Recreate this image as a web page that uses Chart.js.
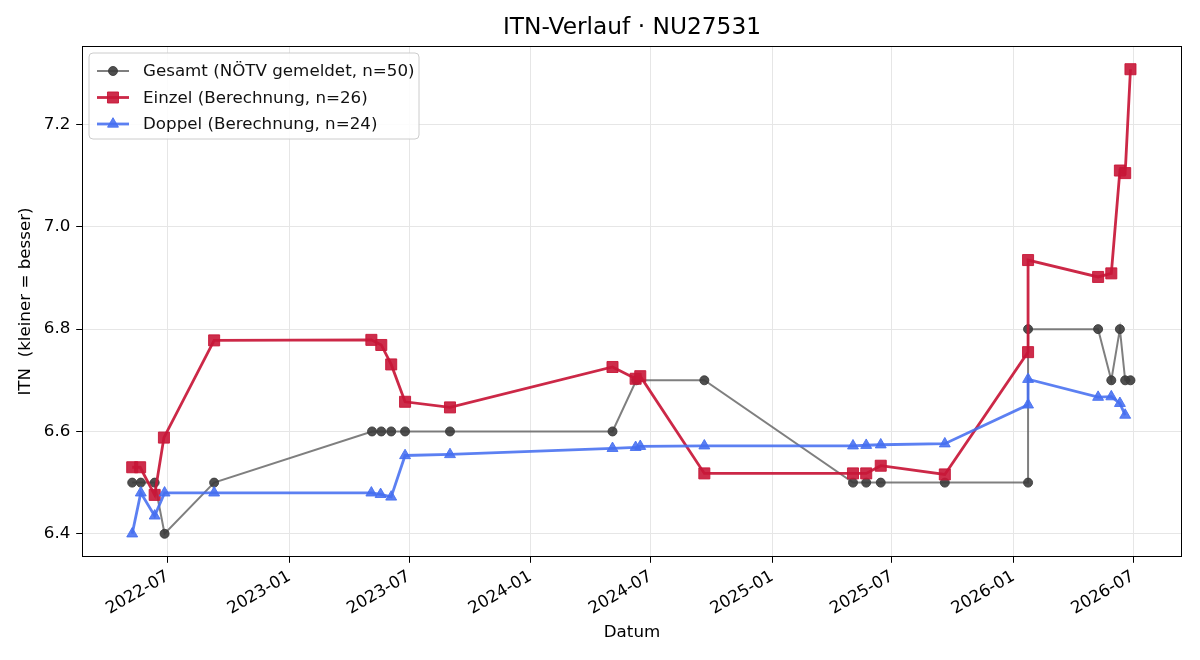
<!DOCTYPE html>
<html><head><meta charset="utf-8">
<script src="https://cdn.jsdelivr.net/npm/chart.js@4.4.1/dist/chart.umd.min.js"></script>
<style>html,body{margin:0;padding:0;background:#fff}#wrap{width:1200px;height:660px}</style>
</head><body><div id="wrap"><canvas id="c" width="1200" height="660"></canvas></div>
<script>
const gesamtDates = ['2022-05-08','2022-05-21','2022-06-11','2022-06-26','2022-09-09','2023-05-06','2023-05-20','2023-06-04','2023-06-25','2023-09-01','2024-05-04','2024-06-09','2024-09-20','2025-05-03','2025-05-23','2025-06-14','2025-09-19','2026-01-23','2026-01-23','2026-05-09','2026-05-29','2026-06-11','2026-06-19','2026-06-27'];
const gesamtValues = [6.5,6.5,6.5,6.4,6.5,6.6,6.6,6.6,6.6,6.6,6.6,6.7,6.7,6.5,6.5,6.5,6.5,6.5,6.8,6.8,6.7,6.8,6.7,6.7];
const einzelDates = ['2022-05-08','2022-05-20','2022-06-11','2022-06-25','2022-09-09','2023-05-05','2023-05-20','2023-06-04','2023-06-25','2023-09-01','2024-05-04','2024-06-08','2024-06-15','2024-09-20','2025-05-03','2025-05-23','2025-06-14','2025-09-19','2026-01-23','2026-01-23','2026-05-09','2026-05-29','2026-06-11','2026-06-19','2026-06-27'];
const einzelValues = [6.530,6.530,6.476,6.588,6.778,6.779,6.769,6.731,6.658,6.647,6.726,6.703,6.708,6.518,6.518,6.518,6.533,6.516,6.755,6.935,6.902,6.909,7.110,7.105,7.308];
const doppelDates = ['2022-05-08','2022-05-21','2022-06-11','2022-06-26','2022-09-09','2023-05-05','2023-05-19','2023-06-04','2023-06-25','2023-09-01','2024-05-04','2024-06-08','2024-06-15','2024-09-20','2025-05-03','2025-05-23','2025-06-14','2025-09-19','2026-01-23','2026-01-23','2026-05-09','2026-05-29','2026-06-11','2026-06-19'];
const doppelValues = [6.400,6.480,6.435,6.480,6.480,6.480,6.477,6.472,6.553,6.555,6.567,6.569,6.571,6.572,6.572,6.573,6.574,6.576,6.652,6.702,6.667,6.668,6.655,6.632];
const xTickLabels = ['2022-07','2023-01','2023-07','2024-01','2024-07','2025-01','2025-07','2026-01','2026-07'];
const yTickValues = [6.4,6.6,6.8,7.0,7.2];
const seriesNames = ['Gesamt (NÖTV gemeldet, n=50)','Einzel (Berechnung, n=26)','Doppel (Berechnung, n=24)'];
const titleText = 'ITN-Verlauf · NU27531';

const DAY = 86400000;
function dayNum(s){const p=s.split('-').map(Number);return Date.UTC(p[0],p[1]-1,p[2]||1)/DAY;}
function pts(d,v){return d.map((s,i)=>({x:dayNum(s),y:v[i]}));}
const xTickVals = xTickLabels.map(dayNum);
const FONT = 'DejaVu Sans';
const FS = 16.7;

const styles = [
  {line:'rgba(95,95,95,0.8)', pt:'rgba(60,60,60,0.9)', lw:2, ps:'circle', r:4.5},
  {line:'rgba(200,22,55,0.92)', pt:'rgba(200,22,55,0.9)', lw:2.8, ps:'rect', r:7.8},
  {line:'rgba(70,110,240,0.88)', pt:'rgba(70,110,240,0.88)', lw:2.8, ps:'triangle', r:6.3}
];
const dataSets = [pts(gesamtDates,gesamtValues), pts(einzelDates,einzelValues), pts(doppelDates,doppelValues)];

function drawMarker(ctx, st, x, y){
  ctx.save();
  ctx.fillStyle = st.pt; ctx.strokeStyle = st.pt; ctx.lineWidth = 1;
  ctx.beginPath();
  if (st.ps==='circle'){ ctx.arc(x,y,st.r,0,Math.PI*2); }
  else if (st.ps==='rect'){ const s=st.r*Math.SQRT1_2; ctx.rect(x-s,y-s,2*s,2*s); }
  else { let a=0; ctx.moveTo(x+Math.sin(a)*st.r,y-Math.cos(a)*st.r); a+=2*Math.PI/3; ctx.lineTo(x+Math.sin(a)*st.r,y-Math.cos(a)*st.r); a+=2*Math.PI/3; ctx.lineTo(x+Math.sin(a)*st.r,y-Math.cos(a)*st.r); ctx.closePath(); }
  ctx.fill(); ctx.stroke(); ctx.restore();
}

const framePlugin = {
  id:'frame',
  afterDraw(chart){
    const ctx=chart.ctx, a=chart.chartArea;
    ctx.save();
    ctx.strokeStyle='#000'; ctx.lineWidth=1;
    ctx.strokeRect(Math.round(a.left)+0.5, Math.round(a.top)+0.5, Math.round(a.right-a.left)-1, Math.round(a.bottom-a.top)-1);
    // title centred over plot area
    ctx.fillStyle='#000'; ctx.font='23.3px "'+FONT+'"'; ctx.textAlign='center'; ctx.textBaseline='middle';
    ctx.fillText(titleText, (a.left+a.right)/2, 28);
    // legend
    const bx=89, by=53, bw=330, bh=86, rr=4;
    ctx.beginPath();
    ctx.moveTo(bx+rr,by); ctx.lineTo(bx+bw-rr,by); ctx.quadraticCurveTo(bx+bw,by,bx+bw,by+rr);
    ctx.lineTo(bx+bw,by+bh-rr); ctx.quadraticCurveTo(bx+bw,by+bh,bx+bw-rr,by+bh);
    ctx.lineTo(bx+rr,by+bh); ctx.quadraticCurveTo(bx,by+bh,bx,by+bh-rr);
    ctx.lineTo(bx,by+rr); ctx.quadraticCurveTo(bx,by,bx+rr,by); ctx.closePath();
    ctx.fillStyle='rgba(255,255,255,0.85)'; ctx.fill();
    ctx.strokeStyle='#cccccc'; ctx.lineWidth=1; ctx.stroke();
    ctx.font=FS+'px "'+FONT+'"'; ctx.textBaseline='middle'; ctx.textAlign='left';
    seriesNames.forEach((n,i)=>{
      const y=71+i*26.5, st=styles[i];
      ctx.strokeStyle=st.line; ctx.lineWidth=st.lw;
      ctx.beginPath(); ctx.moveTo(97,y); ctx.lineTo(129,y); ctx.stroke();
      drawMarker(ctx, st, 113, y);
      ctx.fillStyle='#111'; ctx.fillText(n,143,y+1);
    });
    ctx.restore();
  }
};

new Chart(document.getElementById('c'), {
  type:'line',
  data:{datasets: dataSets.map((d,i)=>({
    label: seriesNames[i], data:d, order: 3-i,
    borderColor: styles[i].line, borderWidth: styles[i].lw, tension:0, fill:false,
    pointStyle: styles[i].ps, pointRadius: styles[i].r, pointHoverRadius: styles[i].r,
    pointBackgroundColor: styles[i].pt, pointBorderColor: styles[i].pt, pointBorderWidth:1
  }))},
  options:{
    responsive:false, animation:false, devicePixelRatio:1,
    layout:{padding:{left:0,right:18,top:46,bottom:0}},
    plugins:{
      legend:{display:false}, tooltip:{enabled:false}, title:{display:false}
    },
    scales:{
      x:{type:'linear', min: dayNum('2022-02-21'), max: dayNum('2026-09-13'),
        afterFit(s){s.height=103;},
        afterBuildTicks(s){s.ticks = xTickVals.map(v=>({value:v}));},
        ticks:{autoSkip:false, minRotation:30, maxRotation:30, padding:4, color:'#000',
          font:{family:FONT,size:FS},
          callback:(v)=>{const i=xTickVals.indexOf(v);return i>=0?xTickLabels[i]:'';}},
        grid:{color:'#e6e6e6', lineWidth:1, drawTicks:true, tickLength:5.8, tickColor:'#000', tickWidth:1},
        border:{display:false},
        title:{display:true, text:'Datum', color:'#000', font:{family:FONT,size:FS}, padding:{top:0,bottom:17}}
      },
      y:{type:'linear', min:6.3546, max:7.3534,
        afterFit(s){s.width=82;},
        afterBuildTicks(s){s.ticks = yTickValues.map(v=>({value:v}));},
        ticks:{padding:5.8, color:'#000', font:{family:FONT,size:FS}, callback:(v)=>Number(v).toFixed(1)},
        grid:{color:'#e6e6e6', lineWidth:1, drawTicks:true, tickLength:5.8, tickColor:'#000', tickWidth:1},
        border:{display:false},
        title:{display:true, text:'ITN  (kleiner = besser)', color:'#000', font:{family:FONT,size:FS}, padding:{top:16,bottom:0}}
      }
    }
  },
  plugins:[framePlugin]
});
</script></body></html>
